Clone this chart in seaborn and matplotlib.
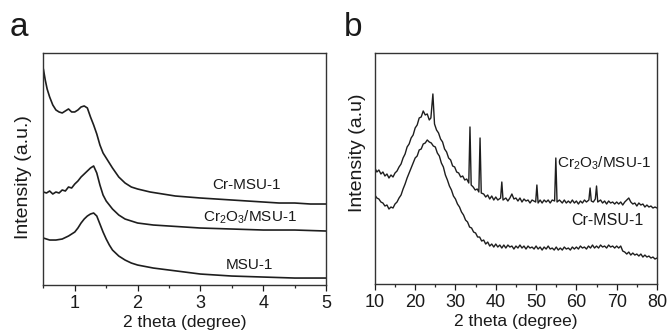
import numpy as np
import matplotlib
matplotlib.use("Agg")
import matplotlib.pyplot as plt
import pandas as pd
import seaborn as sns
from matplotlib.ticker import MultipleLocator

# ---- panel a: low-angle XRD ----
a_cr_msu_x = [0.50, 0.53, 0.56, 0.60, 0.65, 0.70, 0.75, 0.80, 0.85, 0.90, 0.95, 1.00, 1.05, 1.10,
              1.15, 1.20, 1.25, 1.30, 1.35, 1.40, 1.45, 1.50, 1.60, 1.70, 1.80, 1.90, 2.0, 2.2, 2.4,
              2.6, 2.8, 3.0, 3.25, 3.5, 3.75, 4.0, 4.25, 4.5, 4.75, 5.0]
a_cr_msu_y = [216, 205, 196, 188, 180, 175, 173, 172, 174, 176, 173, 173, 175, 178,
              179, 177, 168, 160, 151, 140, 132, 127, 117, 108, 102, 98, 96, 93, 91,
              89, 88, 87, 86, 85, 84, 83, 82, 82, 81, 81]

a_cr2o3_x = [0.5, 0.55, 0.6, 0.65, 0.7, 0.75, 0.8, 0.85, 0.9, 0.95, 1.0, 1.05, 1.1, 1.15, 1.2,
             1.25, 1.3, 1.35, 1.4, 1.45, 1.5, 1.6, 1.7, 1.8, 1.9, 2.0, 2.25, 2.5, 2.75, 3.0,
             3.5, 4.0, 4.5, 5.0]
a_cr2o3_y = [93, 92, 94, 91, 93, 92, 95, 94, 98, 97, 101, 104, 108, 111, 114,
             117, 119, 112, 100, 90, 84, 76, 70, 66, 64, 62, 60, 59, 58, 57,
             56, 55, 55, 54]

a_msu_x = [0.5, 0.6, 0.7, 0.8, 0.9, 1.0, 1.05, 1.1, 1.15, 1.2, 1.25, 1.3, 1.35, 1.4, 1.45,
           1.5, 1.55, 1.6, 1.7, 1.8, 1.9, 2.0, 2.25, 2.5, 2.75, 3.0, 3.5, 4.0, 4.5, 5.0]
a_msu_y = [47, 45, 45, 46, 49, 53, 57, 62, 66, 69, 71, 72, 69, 61, 53,
           46, 40, 35, 29, 25, 22, 20, 17, 15, 13, 11, 9, 8, 7, 7]

# ---- panel b: wide-angle XRD ----
b_cr2o3_x = [10, 10.5, 11, 11.5, 12, 12.5, 13, 13.5, 14, 14.5, 15, 15.5, 16, 16.5, 17, 17.5, 18,
             18.5, 19, 19.5, 20, 20.5, 21, 21.5, 22, 22.5, 23, 23.5, 23.9, 24.4, 24.8, 25.3,
             25.8, 26.3, 26.8, 27.3, 27.8, 28.3, 28.8, 29.3, 29.8, 30.3, 30.8, 31.3, 31.8,
             32.3, 32.8, 33.3, 33.6, 33.9, 34.4, 34.9, 35.4, 35.8, 36.1, 36.4, 37, 37.5, 38,
             38.5, 39, 39.5, 40, 40.5, 41.2, 41.5, 41.8, 42.5, 43, 43.5, 44, 44.5, 45, 45.5,
             46, 46.5, 47, 47.5, 48, 48.5, 49, 49.9, 50.2, 50.5, 51, 51.5, 52, 52.5, 53, 53.5,
             54, 54.6, 54.9, 55.2, 55.8, 56.5, 57, 57.5, 58, 58.5, 59, 59.5, 60, 60.5, 61,
             61.5, 62, 62.5, 63.1, 63.4, 63.7, 64.2, 64.7, 65.0, 65.3, 66, 66.5, 67, 67.5, 68,
             68.5, 69, 69.5, 70, 70.5, 71, 71.5, 72, 72.5, 73, 73.5, 74, 74.5, 75, 75.5, 76,
             76.5, 77, 77.5, 78, 78.5, 79, 79.5, 80]
b_cr2o3_y = [116, 112, 114, 110, 112, 108, 110, 106, 109, 107, 111, 113, 117, 120, 126, 130, 137,
             140, 146, 149, 156, 159, 166, 167, 173, 169, 170, 164, 166, 190, 160, 154,
             151, 145, 142, 135, 132, 126, 124, 118, 117, 112, 111, 107, 108,
             104, 105, 101, 157, 99, 97, 94, 95, 92, 146, 91, 90, 87, 89,
             85, 88, 84, 87, 84, 86, 102, 84, 86, 83, 86, 90, 85, 86, 83,
             86, 82, 85, 83, 84, 81, 84, 82, 99, 81, 84, 81, 84, 82, 84, 81,
             84, 83, 126, 82, 84, 81, 84, 81, 83, 81, 84, 81, 83, 80, 83,
             81, 84, 82, 84, 96, 83, 82, 85, 98, 82, 84, 81, 83, 80, 83,
             81, 82, 80, 82, 80, 82, 79, 82, 84, 86, 82, 80, 81, 78, 81, 79,
             80, 77, 79, 77, 78, 76, 77, 76]

b_cr_msu_x = [10, 10.5, 11, 11.5, 12, 12.5, 13, 13.5, 14, 14.5, 15, 15.5, 16, 16.5, 17, 17.5,
              18, 18.5, 19, 19.5, 20, 20.5, 21, 21.5, 22, 22.5, 23, 23.5, 24, 24.5, 25, 25.5,
              26, 26.5, 27, 27.5, 28, 28.5, 29, 29.5, 30, 30.5, 31, 31.5, 32, 32.5, 33, 33.5,
              34, 34.5, 35, 35.5, 36, 36.5, 37, 37.5, 38, 38.5, 39, 39.5, 40, 40.5, 41, 41.5,
              42, 42.5, 43, 43.5, 44, 44.5, 45, 45.5, 46, 46.5, 47, 47.5, 48, 48.5, 49, 49.5,
              50, 50.5, 51, 51.5, 52, 52.5, 53, 53.5, 54, 54.5, 55, 55.5, 56, 56.5, 57, 57.5,
              58, 58.5, 59, 59.5, 60, 60.5, 61, 61.5, 62, 62.5, 63, 63.5, 64, 64.5, 65, 65.5,
              66, 66.5, 67, 67.5, 68, 68.5, 69, 69.5, 70, 70.5, 71, 71.5, 72, 72.5, 73, 73.5,
              74, 74.5, 75, 75.5, 76, 76.5, 77, 77.5, 78, 78.5, 79, 79.5, 80]
b_cr_msu_y = [89, 86, 85, 82, 81, 78, 79, 75, 77, 76, 80, 82, 86, 89, 95, 100,
              106, 111, 116, 121, 126, 128, 134, 135, 140, 141, 144, 142, 141, 138, 137, 131,
              128, 121, 117, 109, 104, 98, 94, 88, 85, 80, 77, 72, 69, 64, 62, 57,
              56, 52, 51, 47, 47, 43, 44, 40, 42, 38, 40, 37, 40, 37, 39, 36,
              39, 36, 39, 37, 38, 35, 38, 36, 39, 36, 38, 35, 38, 36, 37, 35,
              38, 35, 37, 34, 37, 35, 38, 35, 36, 34, 37, 34, 36, 34, 37, 35,
              36, 34, 37, 35, 37, 35, 38, 36, 37, 35, 38, 36, 39, 36, 38, 36,
              39, 37, 38, 36, 39, 37, 38, 36, 38, 36, 38, 33, 32, 30, 32, 29,
              31, 29, 30, 28, 30, 27, 29, 27, 28, 26, 27, 25, 26]

sns.set_style("ticks")
plt.rcParams['font.family'] = ['Liberation Sans', 'DejaVu Sans']
plt.rcParams['mathtext.fontset'] = 'custom'
plt.rcParams['mathtext.rm'] = 'Liberation Sans'
plt.rcParams['mathtext.it'] = 'Liberation Sans'

line_color = "#1e1e1e"
txt_color = "#1a1a1a"
fig = plt.figure(figsize=(6.67, 3.33), dpi=100)
ax1 = fig.add_axes([0.065, 0.144, 0.424, 0.697])
ax2 = fig.add_axes([0.562, 0.147, 0.423, 0.694])

for xs, ys in [(a_cr_msu_x, a_cr_msu_y), (a_cr2o3_x, a_cr2o3_y), (a_msu_x, a_msu_y)]:
    sns.lineplot(x=xs, y=ys, ax=ax1, color=line_color, linewidth=1.2, sort=False)
for xs, ys in [(b_cr2o3_x, b_cr2o3_y), (b_cr_msu_x, b_cr_msu_y)]:
    sns.lineplot(x=xs, y=ys, ax=ax2, color=line_color, linewidth=1.0, sort=False)

ax1.set_xlim(0.5, 5)
ax1.set_ylim(0, 232)
ax1.xaxis.set_major_locator(MultipleLocator(1))
ax1.xaxis.set_minor_locator(MultipleLocator(0.5))

ax2.set_xlim(10, 80)
ax2.set_ylim(0, 231)
ax2.xaxis.set_major_locator(MultipleLocator(10))
ax2.xaxis.set_minor_locator(MultipleLocator(5))

for ax, ylab in [(ax1, "Intensity (a.u.)"), (ax2, "Intensity (a.u)")]:
    ax.set_yticks([])
    ax.tick_params(axis='x', direction='out', length=4, width=0.9, labelsize=13, pad=3,
                   colors=txt_color)
    ax.tick_params(axis='x', which='minor', direction='out', length=2.5, width=0.9)
    for s in ax.spines.values():
        s.set_visible(True)
        s.set_color('#333')
        s.set_linewidth(1.0)
    ax.set_xlabel("2 theta (degree)", fontsize=12.5, labelpad=2, color=txt_color)
    ax.set_ylabel(ylab, fontsize=14, color=txt_color)

ax1.yaxis.set_label_coords(-0.04, 0.465)
ax2.yaxis.set_label_coords(-0.03, 0.57)

ax1.text(3.73, 100, "Cr-MSU-1", fontsize=11, ha='center', va='center', color=txt_color)
ax1.text(3.78, 68, "Cr$_2$O$_3$/MSU-1", fontsize=11, ha='center', va='center', color=txt_color)
ax1.text(3.78, 20, "MSU-1", fontsize=11, ha='center', va='center', color=txt_color)
ax2.text(66.8, 121, "Cr$_2$O$_3$/MSU-1", fontsize=11, ha='center', va='center', color=txt_color)
ax2.text(67.8, 64, "Cr-MSU-1", fontsize=11.5, ha='center', va='center', color=txt_color)

fig.text(0.014, 0.892, "a", fontsize=24, color=txt_color)
fig.text(0.516, 0.892, "b", fontsize=24, color=txt_color)

fig.savefig("out.png", dpi=100)
